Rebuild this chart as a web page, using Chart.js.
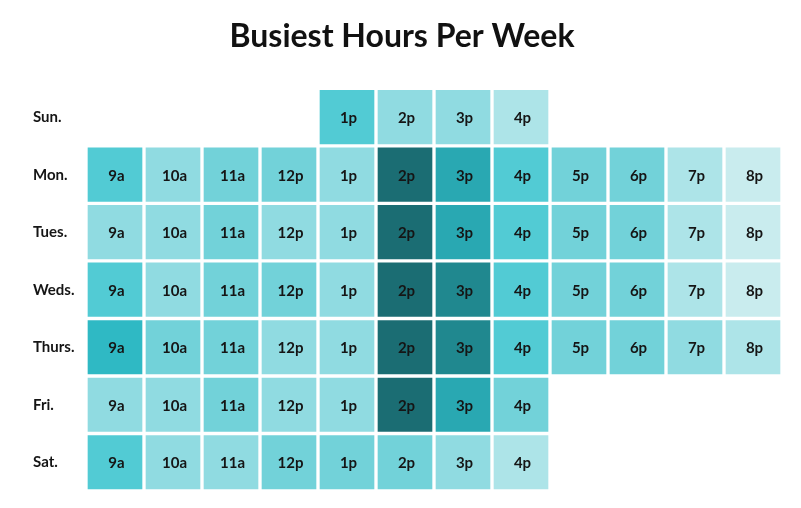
<!DOCTYPE html>
<html>
<head>
<meta charset="utf-8">
<script src="https://cdn.jsdelivr.net/npm/chart.js@4.4.1/dist/chart.umd.min.js"></script>
<style>
  html, body { margin: 0; padding: 0; background: #fff; }
  #wrap { width: 801px; height: 508px; }
</style>
</head>
<body>
<div id="wrap"><canvas id="heat"></canvas></div>

<script>
// busyness level per hour (1 = quiet ... 9 = busiest), null = closed
var days  = ['Sun.', 'Mon.', 'Tues.', 'Weds.', 'Thurs.', 'Fri.', 'Sat.'];
var hours = ['9a', '10a', '11a', '12p', '1p', '2p', '3p', '4p', '5p', '6p', '7p', '8p'];

var sun   = [null, null, null, null, 5, 3, 3, 2, null, null, null, null];
var mon   = [5, 3, 4, 4, 3, 9, 7, 5, 4, 4, 2, 1];
var tues  = [3, 3, 4, 3, 3, 9, 7, 5, 4, 4, 2, 1];
var weds  = [5, 3, 4, 4, 3, 9, 8, 5, 4, 4, 2, 1];
var thurs = [6, 4, 4, 3, 3, 9, 8, 5, 4, 4, 3, 2];
var fri   = [3, 3, 4, 3, 3, 9, 7, 4, null, null, null, null];
var sat   = [5, 3, 3, 4, 4, 4, 3, 2, null, null, null, null];

var rows = [sun, mon, tues, weds, thurs, fri, sat];

// colour for each level, index = level
var palette = [null, '#c9ecee', '#ade4e8', '#90dbe1', '#72d2d9', '#52cbd4',
               '#2fb9c4', '#29a8b2', '#20888f', '#1b6d73'];

var datasets = rows.map(function(row, d) {
    var pts = [];
    row.forEach(function(lvl, h) {
        if (lvl === null) return;
        pts.push({ y: days[d], x: [h - 0.5, h + 0.5], level: lvl, hour: hours[h] });
    });
    return {
        label: days[d],
        data: pts,
        grouped: false,
        borderWidth: 2,
        borderColor: '#ffffff',
        borderSkipped: false,
        categoryPercentage: 1,
        barPercentage: 1,
        backgroundColor: function(ctx) {
            return ctx.raw ? palette[ctx.raw.level] : '#fff';
        }
    };
});

// writes the hour inside each cell
var cellLabels = {
    id: 'cellLabels',
    afterLayout: function(chart) {
        // centre the title on the whole canvas, not on the padded area
        if (chart.titleBlock) {
            chart.titleBlock.left = 0;
            chart.titleBlock.right = chart.width + 3;
        }
    },
    afterDatasetsDraw: function(chart) {
        var ctx = chart.ctx;
        ctx.save();
        ctx.font = 'bold 15px Lato';
        ctx.fillStyle = '#151515';
        ctx.textAlign = 'center';
        ctx.textBaseline = 'middle';
        chart.data.datasets.forEach(function(ds, i) {
            chart.getDatasetMeta(i).data.forEach(function(el, j) {
                var c = el.getCenterPoint();
                ctx.fillText(ds.data[j].hour, c.x + 1.5, c.y + 1);
            });
        });
        ctx.restore();
    }
};

new Chart(document.getElementById('heat'), {
    type: 'bar',
    data: { labels: days, datasets: datasets },
    options: {
        indexAxis: 'y',
        responsive: true,
        maintainAspectRatio: false,
        animation: false,
        layout: { padding: { left: 33, right: 19, top: 0, bottom: 17 } },
        plugins: {
            legend: { display: false },
            tooltip: { enabled: false },
            title: {
                display: true,
                text: 'Busiest Hours Per Week',
                color: '#111',
                font: { family: 'Lato', size: 32, weight: 'bold' },
                padding: { top: 17, bottom: 33 }
            }
        },
        scales: {
            x: { type: 'linear', min: -0.5, max: 11.5, display: false },
            y: {
                type: 'category',
                labels: days,
                offset: true,
                grid: { display: false },
                border: { display: false },
                ticks: {
                    crossAlign: 'far',
                    color: '#151515',
                    font: { family: 'Lato', size: 15, weight: 'bold' }
                },
                afterFit: function(scale) { scale.width = 53; }
            }
        }
    },
    plugins: [cellLabels]
});
</script>
</body>
</html>
